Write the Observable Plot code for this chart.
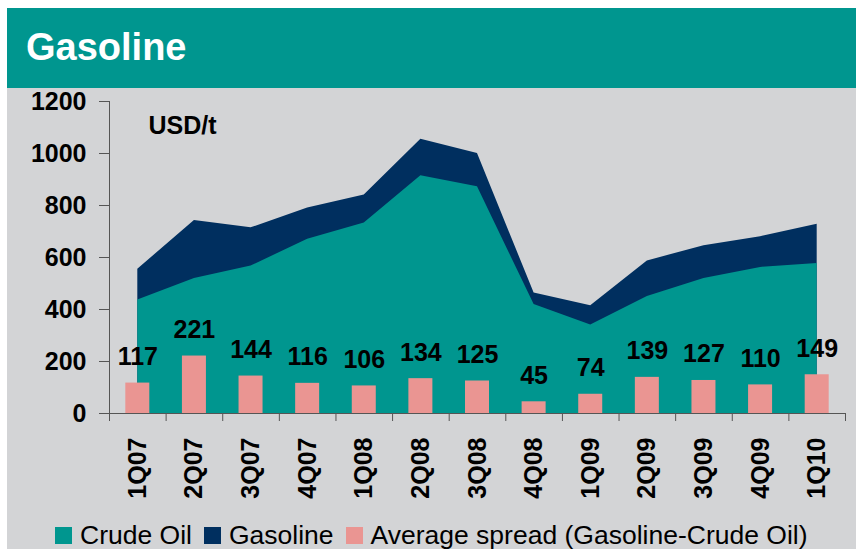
<!DOCTYPE html>
<html>
<head>
<meta charset="utf-8">
<script src="https://cdn.jsdelivr.net/npm/d3@7"></script>
<script src="https://cdn.jsdelivr.net/npm/@observablehq/plot@0.6"></script>
<style>
  html, body { margin: 0; padding: 0; background: #ffffff; width: 856px; height: 549px; overflow: hidden; font-family: "Liberation Sans", Arial, sans-serif; }
  #wrap { position: absolute; left: 7px; top: 8px; width: 849px; height: 541px; }
  #banner { position: absolute; left: 0; top: 0; width: 849px; height: 80px; background: #00968F; }
  #banner h1 { margin: 0; position: absolute; left: 19px; top: 17px; font-size: 38px; line-height: 44px; font-weight: bold; color: #ffffff; font-family: "Liberation Sans", Arial, sans-serif; }
  #panel { position: absolute; left: 0; top: 80px; width: 849px; height: 461px; background: #D3D4D6; }
  #chart { position: absolute; left: 0; top: 0; }
  #legend { position: absolute; left: 48px; top: 432px; height: 30px; display: flex; align-items: center; font-size: 26.5px; line-height: 30px; color: #000; white-space: nowrap; }
  .item { display: flex; align-items: center; margin-right: 12px; }
  .sw { width: 17px; height: 17px; margin-right: 8px; }
</style>
</head>
<body>
<div id="wrap">
  <div id="banner"><h1>Gasoline</h1></div>
  <div id="panel">
    <div id="chart"></div>
    <div id="legend"></div>
  </div>
</div>
<script>
const categories = ["1Q07","2Q07","3Q07","4Q07","1Q08","2Q08","3Q08","4Q08","1Q09","2Q09","3Q09","4Q09","1Q10"];
const crudeOil = [437, 519, 567, 670, 733, 914, 872, 419, 340, 450, 519, 562, 577];
const gasoline = [555, 742, 714, 790, 840, 1055, 1000, 463, 414, 587, 645, 680, 728];
const spread = [117, 221, 144, 116, 106, 134, 125, 45, 74, 139, 127, 110, 149];
const yTicks = [0, 200, 400, 600, 800, 1000, 1200];
const seriesNames = ["Crude Oil", "Gasoline", "Average spread (Gasoline-Crude Oil)"];
const seriesColors = ["#00968F", "#002F5F", "#EA9592"];
const unitLabel = "USD/t";

const rows = categories.map((q, i) => ({q, crude: crudeOil[i], gasoline: gasoline[i], spread: spread[i]}));

const W = 849, H = 420, mL = 102, mR = 11, mT = 13, mB = 95;
const bw = (W - mL - mR) / categories.length;

const chart = Plot.plot({
  width: W,
  height: H,
  marginLeft: mL,
  marginRight: mR,
  marginTop: mT,
  marginBottom: mB,
  style: {background: "transparent", fontFamily: "Liberation Sans, Arial, sans-serif", color: "#000", overflow: "visible"},
  x: {type: "band", domain: categories, padding: 0, round: false, label: null},
  y: {domain: [0, 1200], label: null},
  marks: [
    Plot.areaY(rows, {x: "q", y: "gasoline", fill: seriesColors[1], curve: "linear"}),
    Plot.areaY(rows, {x: "q", y: "crude", fill: seriesColors[0], curve: "linear"}),
    Plot.barY(rows, {x: "q", y: "spread", fill: seriesColors[2], insetLeft: (bw - 24) / 2, insetRight: (bw - 24) / 2}),
    Plot.text(rows, {x: "q", y: "spread", text: d => String(d.spread), dy: -26, lineAnchor: "middle", fontSize: 25, fontWeight: "bold", fill: "#000"}),
    Plot.text([unitLabel], {frameAnchor: "top-left", dx: 39, dy: 15, lineAnchor: "top", textAnchor: "start", fontSize: 25, fontWeight: "bold", fill: "#000"}),
    Plot.axisY({ticks: yTicks, tickFormat: d => String(d), tickSize: 10, tickPadding: 13, fontSize: 25, fontWeight: "bold", stroke: "#555", color: "#000", label: null}),
    Plot.axisX({tickSize: 8, text: null, dx: -bw / 2, stroke: "#555", label: null}),
    Plot.axisX({ticks: [categories[categories.length - 1]], tickSize: 8, text: null, dx: bw / 2, stroke: "#555", label: null}),
    Plot.axisX({tickSize: 0, tickPadding: 24, tickRotate: -90, fontSize: 25, fontWeight: "bold", fill: "#000", label: null}),
    Plot.frame({anchor: "left", stroke: "#555"}),
    Plot.frame({anchor: "bottom", stroke: "#555"})
  ]
});
document.getElementById("chart").appendChild(chart);

const legend = document.getElementById("legend");
seriesNames.forEach((name, i) => {
  const item = document.createElement("div");
  item.className = "item";
  const sw = document.createElement("span");
  sw.className = "sw";
  sw.style.background = seriesColors[i];
  const label = document.createElement("span");
  label.textContent = name;
  item.appendChild(sw);
  item.appendChild(label);
  legend.appendChild(item);
});
</script>
</body>
</html>
